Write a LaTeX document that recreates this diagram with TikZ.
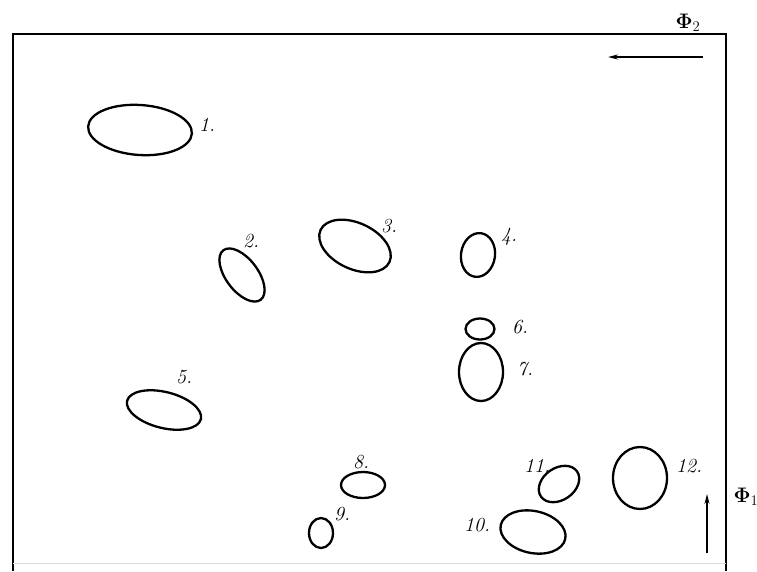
\documentclass[tikz,border=0pt]{standalone}
\usepackage{fix-cm}
\usepackage{amsmath}
\usetikzlibrary{shapes.geometric,arrows.meta}
\tikzset{
  spot/.style={draw, ellipse, line width=2.3pt, inner sep=0pt},
  lbl/.style={font=\fontsize{20}{20}\selectfont\itshape, inner sep=0pt},
  philbl/.style={font=\fontsize{21}{21}\selectfont, inner sep=0pt},
  frameline/.style={line width=1.4pt},
  dirarrow/.style={line width=1.3pt, -{Stealth[length=10pt,width=5pt]}}
}
\begin{document}
\begin{tikzpicture}[x=1pt,y=-1pt]
\useasboundingbox (0,0) rectangle (757,571);
% frame
\coordinate (tl) at (13,34);
\coordinate (tr) at (726,34);
\coordinate (bl) at (13,571);
\coordinate (br) at (726,571);
\coordinate (bbl) at (13,563);
\coordinate (bbr) at (726,563);
\draw[frameline] (bl) -- (tl) -- (tr) -- (br);
\draw[black!15, line width=0.8pt] (bbl) -- (bbr);
% axis labels and arrows
\node[philbl] (phi2) at (688,23) {$\mathbf{\Phi}_2$};
\coordinate (a2s) at (703,57);
\coordinate (a2e) at (608,57);
\draw[dirarrow] (a2s) -- (a2e);
\node[philbl] (phi1) at (746,497) {$\mathbf{\Phi}_1$};
\coordinate (a1s) at (707,553);
\coordinate (a1e) at (707,494);
\draw[dirarrow] (a1s) -- (a1e);
% spots
\node[spot, minimum width=104pt, minimum height=50pt, rotate=-4] (e1) at (140,130) {};
\node[lbl] (l1) at (207,125) {1.};
\node[spot, minimum width=62pt, minimum height=32pt, rotate=-53] (e2) at (242,275) {};
\node[lbl] (l2) at (251,241) {2.};
\node[spot, minimum width=76pt, minimum height=46pt, rotate=-25] (e3) at (355,246) {};
\node[lbl] (l3) at (389,226) {3.};
\node[spot, minimum width=34pt, minimum height=44pt, rotate=-8] (e4) at (478,255) {};
\node[lbl] (l4) at (509,237) {4.};
\node[spot, minimum width=76pt, minimum height=36pt, rotate=-14] (e5) at (164,410) {};
\node[lbl] (l5) at (184,377) {5.};
\node[spot, minimum width=29pt, minimum height=21pt] (e6) at (480,329) {};
\node[lbl] (l6) at (520,327) {6.};
\node[spot, minimum width=44pt, minimum height=58pt] (e7) at (481,372) {};
\node[lbl] (l7) at (525,369) {7.};
\node[spot, minimum width=44pt, minimum height=26pt] (e8) at (363,485) {};
\node[lbl] (l8) at (361,462) {8.};
\node[spot, minimum width=24pt, minimum height=30pt] (e9) at (321,533) {};
\node[lbl] (l9) at (342,514) {9.};
\node[spot, minimum width=66pt, minimum height=42pt, rotate=-12] (e10) at (533,532) {};
\node[lbl] (l10) at (477,525) {10.};
\node[spot, minimum width=44pt, minimum height=32pt, rotate=35] (e11) at (559,484) {};
\node[lbl] (l11) at (537,466) {11.};
\node[spot, minimum width=54pt, minimum height=62pt] (e12) at (640,478) {};
\node[lbl] (l12) at (689,466) {12.};
\end{tikzpicture}
\end{document}
